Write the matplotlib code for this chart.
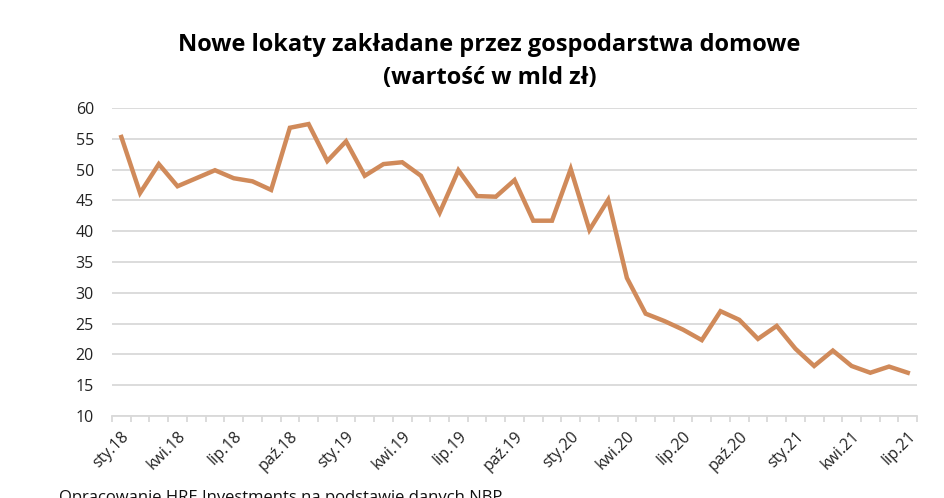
import numpy as np
import matplotlib.pyplot as plt

# miesiace od sty.18 do lip.21
months = ['sty', 'lut', 'mar', 'kwi', 'maj', 'cze',
          'lip', 'sie', 'wrz', 'paź', 'lis', 'gru']
labels = ['%s.%s' % (months[i % 12], 18 + i // 12) for i in range(43)]

values = [55.3, 46.2, 50.9, 47.3, 48.6, 49.9, 48.6, 48.1, 46.7, 56.8, 57.4, 51.4,
          54.6, 49.0, 50.9, 51.2, 49.0, 43.0, 49.9, 45.7, 45.6, 48.3, 41.7, 41.7,
          50.1, 40.2, 45.1, 32.4, 26.6, 25.4, 24.0, 22.3, 27.0, 25.6, 22.5, 24.6,
          20.9, 18.1, 20.6, 18.1, 17.0, 18.0, 17.0]

title = 'Nowe lokaty zakładane przez gospodarstwa domowe\n(wartość w mld zł)'
source = 'Opracowanie HRE Investments na podstawie danych NBP'

plt.rcParams['font.family'] = ['Open Sans', 'DejaVu Sans']

fig = plt.figure(figsize=(9.45, 4.98), dpi=100)
ax = fig.add_axes([0.1185, 0.165, 0.852, 0.618])

x = np.arange(len(values))
ax.plot(x, values, color='#D08A5A', lw=3.2, solid_joinstyle='miter')

ax.set_xlim(-0.5, len(values) - 0.5)
ax.set_ylim(10, 60)
ax.set_yticks(np.arange(10, 61, 5))
ax.yaxis.grid(True, color='#D9D9D9', lw=1.3)
ax.set_axisbelow(True)
ax.tick_params(axis='y', length=0, pad=13, labelsize=11.5, labelcolor='#222222')

major = x[::3]
ax.set_xticks(major)
ax.set_xticklabels([labels[i] for i in major], rotation=45, ha='right',
                   rotation_mode='anchor', fontsize=11.5, color='#222222')
ax.set_xticks(np.arange(-0.5, len(values), 1), minor=True)
ax.tick_params(axis='x', which='major', length=0, pad=9)
ax.tick_params(axis='x', which='minor', length=4, color='#D9D9D9', width=1.3)

for s in ['top', 'right', 'left']:
    ax.spines[s].set_visible(False)
ax.spines['bottom'].set_color('#D9D9D9')
ax.spines['bottom'].set_linewidth(1.3)

fig.text(0.518, 0.877, title, ha='center', va='center', fontsize=17,
         fontweight='bold', linespacing=1.5)
fig.text(0.062, 0.016, source, ha='left', va='top', fontsize=12, color='#111111')

fig.savefig('out.png', dpi=100)
